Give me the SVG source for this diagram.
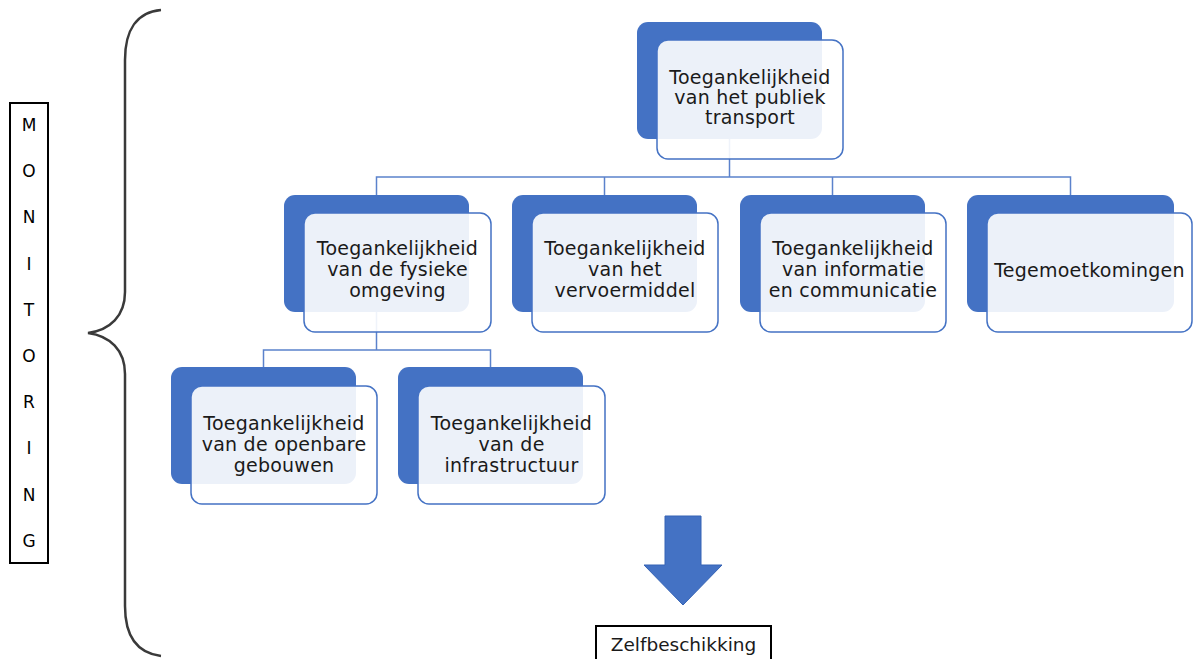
<svg xmlns="http://www.w3.org/2000/svg" width="1193" height="659" viewBox="0 0 1193 659">
<style>
.back{fill:#4472C4;}
.front{fill:#fff;fill-opacity:0.9;stroke:#4472C4;stroke-width:1.5;}
.lbl{font-family:"DejaVu Sans",Verdana,sans-serif;font-size:19px;letter-spacing:0.25px;fill:#1a1a1a;text-anchor:middle;}
.con{fill:none;stroke:#5B82CC;stroke-width:1.5;}
.mon{font-family:"DejaVu Sans",Verdana,sans-serif;font-size:17px;fill:#000;text-anchor:middle;}
</style>
<rect width="1193" height="659" fill="#fff"/>
<g id="connectors">
<path class="con" d="M729.5,139 V177 M376.5,195 V177 H1070.5 V195 M604.5,177 V195 M832.5,177 V195"/>
<path class="con" d="M376.5,312 V350 M263.5,367 V350 H490.5 V367"/>
</g>
<g id="n-top">
<rect class="back" x="637" y="22" width="185" height="117" rx="11"/>
<rect class="front" x="657" y="40" width="186" height="119" rx="11"/>
<text class="lbl" x="750" y="84">Toegankelijkheid</text>
<text class="lbl" x="750" y="104">van het publiek</text>
<text class="lbl" x="750" y="124">transport</text>
</g>
<g id="n-fysiek">
<rect class="back" x="284" y="195" width="185" height="117" rx="11"/>
<rect class="front" x="304" y="213" width="187" height="119" rx="11"/>
<text class="lbl" x="397.5" y="255">Toegankelijkheid</text>
<text class="lbl" x="397.5" y="276">van de fysieke</text>
<text class="lbl" x="397.5" y="297">omgeving</text>
</g>
<g id="n-vervoer">
<rect class="back" x="512" y="195" width="185" height="117" rx="11"/>
<rect class="front" x="532" y="213" width="186" height="119" rx="11"/>
<text class="lbl" x="625" y="255">Toegankelijkheid</text>
<text class="lbl" x="625" y="276">van het</text>
<text class="lbl" x="625" y="297">vervoermiddel</text>
</g>
<g id="n-info">
<rect class="back" x="740" y="195" width="185" height="117" rx="11"/>
<rect class="front" x="760" y="213" width="186" height="119" rx="11"/>
<text class="lbl" x="853" y="255">Toegankelijkheid</text>
<text class="lbl" x="853" y="276">van informatie</text>
<text class="lbl" x="853" y="297">en communicatie</text>
</g>
<g id="n-tegemoet">
<rect class="back" x="967" y="195" width="207" height="117" rx="11"/>
<rect class="front" x="987" y="213" width="205" height="119" rx="11"/>
<text class="lbl" x="1089.5" y="277">Tegemoetkomingen</text>
</g>
<g id="n-gebouwen">
<rect class="back" x="171" y="367" width="185" height="117" rx="11"/>
<rect class="front" x="191" y="386" width="186" height="118" rx="11"/>
<text class="lbl" x="284" y="430">Toegankelijkheid</text>
<text class="lbl" x="284" y="451">van de openbare</text>
<text class="lbl" x="284" y="472">gebouwen</text>
</g>
<g id="n-infra">
<rect class="back" x="398" y="367" width="185" height="117" rx="11"/>
<rect class="front" x="418" y="386" width="187" height="118" rx="11"/>
<text class="lbl" x="511.5" y="430">Toegankelijkheid</text>
<text class="lbl" x="511.5" y="451">van de</text>
<text class="lbl" x="511.5" y="472">infrastructuur</text>
</g>
<g id="monitoring">
<rect x="10" y="103" width="38" height="460" fill="#fff" stroke="#000" stroke-width="2"/>
<text class="mon" x="29" y="131">M</text>
<text class="mon" x="29" y="177">O</text>
<text class="mon" x="29" y="223">N</text>
<text class="mon" x="29" y="270">I</text>
<text class="mon" x="29" y="316">T</text>
<text class="mon" x="29" y="362">O</text>
<text class="mon" x="29" y="408">R</text>
<text class="mon" x="29" y="454">I</text>
<text class="mon" x="29" y="501">N</text>
<text class="mon" x="29" y="547">G</text>
</g>
<g id="brace">
<path d="M161,10 C137,12 125,30 125,60 L125,292 C125,316 110,330 88,333 C110,336 125,350 125,374 L125,606 C125,636 137,653 161,656" fill="none" stroke="#3a3a3a" stroke-width="2.5"/>
</g>
<g id="arrow">
<path d="M665,516 H701 V565 H722 L683,605 L644,565 H665 Z" fill="#4472C4" stroke="#3563B5" stroke-width="1"/>
</g>
<g id="zelf">
<rect x="596" y="626" width="175" height="40" fill="#fff" stroke="#000" stroke-width="2"/>
<text class="lbl" x="683.5" y="651" style="font-size:18.5px;letter-spacing:0">Zelfbeschikking</text>
</g>
</svg>
